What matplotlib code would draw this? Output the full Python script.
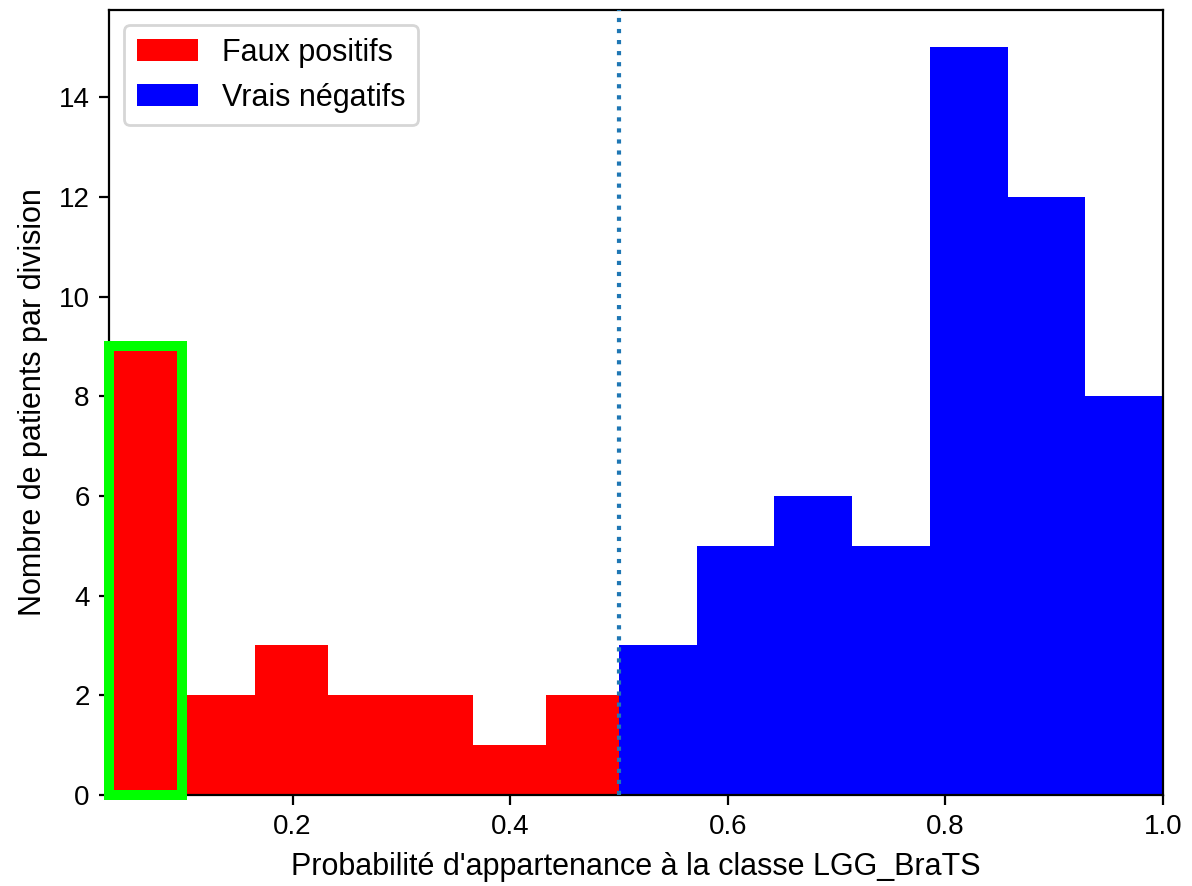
import matplotlib
matplotlib.use("Agg")
import matplotlib.pyplot as plt
from matplotlib.patches import Rectangle

plt.rcParams['font.family'] = ['Liberation Sans', 'DejaVu Sans']

# Data
fp_edges = [0.0314, 0.0983, 0.1653, 0.2322, 0.2992, 0.3661, 0.4331, 0.5]
fp_counts = [9, 2, 3, 2, 2, 1, 2]
tn_edges = [0.5, 0.5714, 0.6429, 0.7143, 0.7857, 0.8571, 0.9286, 1.0]
tn_counts = [3, 5, 6, 5, 15, 12, 8]
threshold = 0.5
highlight_bin = 0
labels = ["Faux positifs", "Vrais négatifs"]
xticks = [0.2, 0.4, 0.6, 0.8, 1.0]
yticks = [0, 2, 4, 6, 8, 10, 12, 14]

fig = plt.figure(figsize=(5.96, 4.43), dpi=200)
ax = fig.add_axes([0.0915, 0.1027, 0.8842, 0.886])

fp_centers = [(a + b) / 2 for a, b in zip(fp_edges[:-1], fp_edges[1:])]
tn_centers = [(a + b) / 2 for a, b in zip(tn_edges[:-1], tn_edges[1:])]

ax.hist(fp_centers, bins=fp_edges, weights=fp_counts,
        color='red', label=labels[0])
ax.hist(tn_centers, bins=tn_edges, weights=tn_counts,
        color='blue', label=labels[1])

# Highlight rectangle around the first bin
hx0 = fp_edges[highlight_bin]
hx1 = fp_edges[highlight_bin + 1]
ax.add_patch(Rectangle((hx0, 0), hx1 - hx0, fp_counts[highlight_bin],
                       fill=False, edgecolor='lime', linewidth=3.6,
                       clip_on=False, zorder=3))

ax.axvline(threshold, linestyle=':', color='C0', linewidth=1.5, zorder=4)

ax.set_xlim(fp_edges[0], tn_edges[-1])
ax.set_xticks(xticks)
ax.set_yticks(yticks)
ax.tick_params(labelsize=10)
ax.set_xlabel("Probabilité d'appartenance à la classe LGG_BraTS", fontsize=11)
ax.set_ylabel("Nombre de patients par division", fontsize=11)
ax.legend(loc='upper left', fontsize=11)

fig.savefig("out.png", dpi=200)
